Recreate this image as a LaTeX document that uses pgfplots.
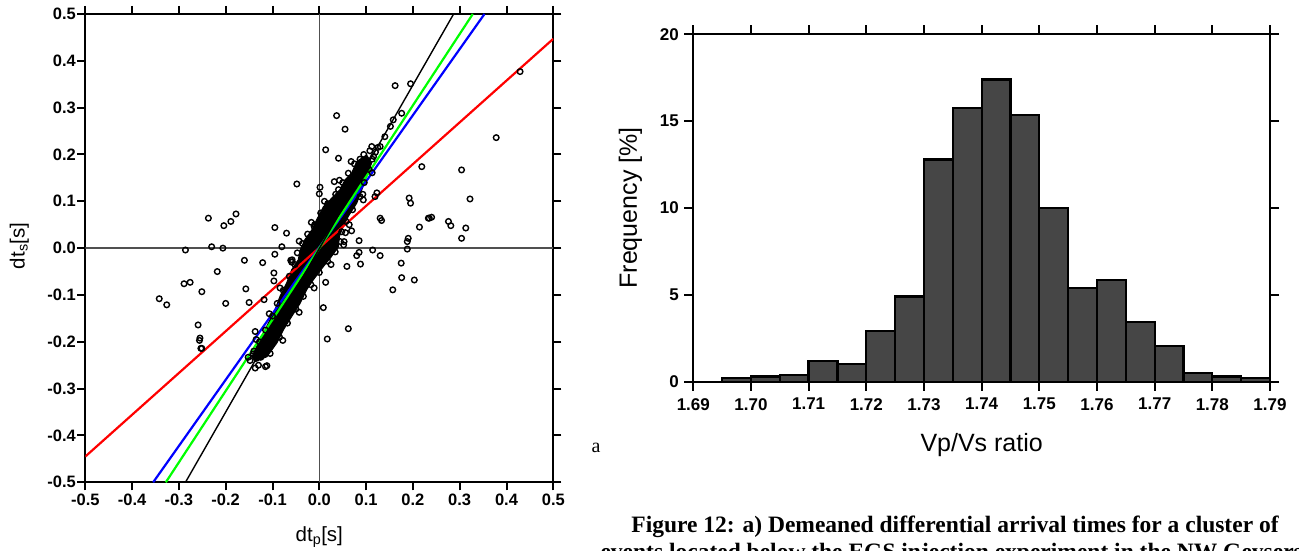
\documentclass[border=0pt]{standalone}
\usepackage{fontspec}
\setmainfont{Liberation Sans}
\newfontfamily\capfont{Liberation Serif}
\usepackage{pgfplots}
\pgfplotsset{compat=1.18}
\definecolor{barc}{HTML}{464646}
\definecolor{zl}{HTML}{505050}
\begin{document}
\begin{tikzpicture}
\useasboundingbox (0pt,0pt) rectangle (1299pt,550pt);
\clip (0pt,0pt) rectangle (1299pt,550pt);
% ---------------- left: scatter ----------------
\begin{axis}[
  at={(85.3pt,67.7pt)}, anchor=south west,
  width=468pt, height=468.3pt, scale only axis,
  xmin=-0.5, xmax=0.5, ymin=-0.5, ymax=0.5,
  axis line style={line width=2.2pt},
  tick align=outside, major tick length=8pt,
  every tick/.style={black, line width=2pt},
  xtick={-0.5,-0.4,-0.3,-0.2,-0.1,0,0.1,0.2,0.3,0.4,0.5},
  ytick={-0.5,-0.4,-0.3,-0.2,-0.1,0,0.1,0.2,0.3,0.4,0.5},
  xticklabels={-0.5,-0.4,-0.3,-0.2,-0.1,0.0,0.1,0.2,0.3,0.4,0.5},
  yticklabels={-0.5,-0.4,-0.3,-0.2,-0.1,0.0,0.1,0.2,0.3,0.4,0.5},
  ticklabel style={font=\fontsize{16.5}{16.5}\selectfont\bfseries},
  yticklabel style={xshift=2pt},
  xlabel={dt\textsubscript{p}[s]},
  ylabel={dt\textsubscript{s}[s]},
  label style={font=\fontsize{20.5}{20.5}\selectfont},
  xlabel style={at={(axis description cs:0.5,-0.117)}, anchor=center},
  ylabel style={at={(axis description cs:-0.141,0.505)}, anchor=center},
]
% zero lines
\addplot[zl, line width=1.3pt] coordinates {(-0.5,0) (0.5,0)};
\addplot[zl, line width=1.3pt] coordinates {(0,-0.5) (0,0.5)};
% dense core of the cluster
\addplot[fill=black, draw=black, line width=1pt] coordinates {
(0.101,0.199) (0.080,0.185) (0.069,0.160) (0.055,0.146) (0.044,0.125)
(0.023,0.103) (0.009,0.089) (-0.006,0.060) (-0.016,0.039) (-0.031,0.018)
(-0.041,-0.004) (-0.045,-0.025) (-0.059,-0.046) (-0.070,-0.075) (-0.084,-0.103)
(-0.095,-0.132) (-0.109,-0.160) (-0.123,-0.189) (-0.134,-0.210) (-0.144,-0.232)
(-0.137,-0.242) (-0.112,-0.232) (-0.091,-0.203) (-0.077,-0.175) (-0.059,-0.146)
(-0.041,-0.118) (-0.027,-0.089) (-0.013,-0.068) (0.009,-0.039) (0.026,-0.018)
(0.041,0.003) (0.043,0.025) (0.051,0.046) (0.062,0.068) (0.080,0.096)
(0.091,0.125) (0.101,0.153) (0.112,0.182) (0.101,0.199)};
% individual events
\addplot[only marks, mark=o, mark size=2.8pt, mark options={black, line width=1.4pt}] coordinates {
(0.095,0.200) (0.075,0.180) (0.062,0.160) (0.050,0.140) (0.035,0.115) (0.018,0.095)
(0.003,0.075) (-0.010,0.050) (-0.025,0.030) (-0.036,0.010) (-0.047,-0.010) (-0.052,-0.035)
(-0.064,-0.060) (-0.077,-0.090) (-0.090,-0.118) (-0.100,-0.145) (-0.115,-0.175) (-0.128,-0.200)
(-0.140,-0.220) (-0.148,-0.240)
(-0.130,-0.250) (-0.105,-0.225) (-0.085,-0.190) (-0.068,-0.160) (-0.050,-0.130) (-0.034,-0.103)
(-0.018,-0.078) (0.000,-0.052) (0.018,-0.028) (0.034,-0.008) (0.045,0.014) (0.048,0.035)
(0.057,0.057) (0.071,0.082) (0.087,0.110) (0.096,0.140) (0.106,0.168) (0.113,0.190)
(0.068,0.185) (0.043,0.145) (0.011,0.100) (-0.017,0.055) (-0.043,0.015) (-0.059,-0.030)
(-0.084,-0.085) (-0.107,-0.140) (-0.135,-0.195)
(-0.078,-0.197) (-0.043,-0.137) (-0.011,-0.085) (0.025,-0.035) (0.052,0.007) (0.064,0.050)
(0.094,0.103) (0.113,0.161)
(0.120,0.205) (0.125,0.215) (0.130,0.217) (0.140,0.238) (0.152,0.260) (0.158,0.274) (0.176,0.288)
(0.108,0.208) (0.116,0.196)
(-0.137,-0.256) (-0.134,-0.235) (-0.141,-0.226) (-0.152,-0.233) (-0.125,-0.233) (-0.137,-0.178)
(-0.115,-0.253) (-0.120,-0.215)
(0.037,0.283) (0.055,0.254) (0.0136,0.210) (0.041,0.192) (-0.048,0.137) (0.0015,0.130)
(0.000,0.116) (0.032,0.142) (0.041,0.125) (0.112,0.217) (0.087,0.190) (0.119,0.110)
(0.093,0.115) (0.192,0.107) (0.195,0.096) (0.219,0.174) (0.130,0.064) (0.133,0.059)
(0.214,0.045) (0.233,0.064) (0.190,0.021) (0.188,0.014) (0.188,-0.002) (0.056,0.033)
(0.069,0.037) (0.053,0.014) (0.085,0.016) (0.114,-0.004) (0.130,-0.016) (0.085,-0.009)
(0.080,-0.016) (0.088,-0.034) (0.059,-0.039) (0.175,-0.032) (0.176,-0.063) (0.203,-0.068)
(0.157,-0.089) (0.0136,-0.073) (0.0086,-0.127) (0.062,-0.172) (0.017,-0.194)
(-0.237,0.064) (-0.204,0.048) (-0.189,0.057) (-0.178,0.073) (-0.230,0.003) (-0.206,0.000)
(-0.095,0.044) (-0.070,0.032) (-0.080,0.003) (-0.095,-0.013) (-0.160,-0.026) (-0.121,-0.031)
(-0.061,-0.026) (-0.218,-0.050) (-0.097,-0.070) (-0.157,-0.087) (-0.251,-0.093) (-0.200,-0.118)
(-0.150,-0.116) (-0.118,-0.110) (-0.255,-0.192) (-0.251,-0.214) (-0.112,-0.251) (-0.286,-0.004)
(-0.097,-0.053) (-0.058,-0.025) (-0.011,0.046)
(0.162,0.347) (0.195,0.351) (0.429,0.377) (0.378,0.236) (0.304,0.167) (0.322,0.105)
(0.235,0.064) (0.240,0.066) (0.276,0.057) (0.281,0.048) (0.313,0.043) (0.304,0.021)
(0.123,0.118)
(-0.342,-0.108) (-0.326,-0.121) (-0.289,-0.076) (-0.276,-0.073) (-0.259,-0.164) (-0.256,-0.197)
(-0.253,-0.214)};
% fitted lines
\addplot[red, line width=2.2pt] coordinates {(-0.5,-0.445) (0.5,0.447)};
\addplot[blue, line width=2.2pt] coordinates {(-0.355,-0.5) (0.353,0.5)};
\addplot[green, line width=2.2pt] coordinates {(-0.328,-0.5) (0.328,0.5)};
\addplot[black, line width=1.4pt] coordinates {(-0.286,-0.5) (0.287,0.5)};
\end{axis}
% ---------------- right: histogram ----------------
\begin{axis}[
  at={(693.3pt,168.3pt)}, anchor=south west,
  width=576.7pt, height=347.4pt, scale only axis,
  xmin=1.69, xmax=1.79, ymin=0, ymax=20,
  axis line style={line width=2.2pt},
  tick align=outside, major tick length=9pt,
  every tick/.style={black, line width=2pt},
  xtick={1.69,1.70,1.71,1.72,1.73,1.74,1.75,1.76,1.77,1.78,1.79},
  xticklabels={1.69,1.70,1.71,1.72,1.73,1.74,1.75,1.76,1.77,1.78,1.79},
  ytick={0,5,10,15,20},
  yticklabels={0,5,10,15,20},
  ticklabel style={font=\fontsize{17}{17}\selectfont\bfseries},
  xticklabel style={yshift=-4pt},
  yticklabel style={xshift=-2pt},
  xlabel={Vp/Vs ratio},
  ylabel={Frequency [\%]},
  label style={font=\fontsize{25}{25}\selectfont},
  xlabel style={at={(axis description cs:0.5,-0.182)}, anchor=center},
  ylabel style={at={(axis description cs:-0.109,0.5)}, anchor=center},
  axis on top,
]
\addplot[ybar, bar width=0.005, bar shift=0pt, fill=barc, draw=black, line width=2.3pt] coordinates {
(1.6975,0.2) (1.7025,0.3) (1.7075,0.4) (1.7125,1.2) (1.7175,1.0) (1.7225,2.9)
(1.7275,4.9) (1.7325,12.8) (1.7375,15.75) (1.7425,17.4) (1.7475,15.35) (1.7525,10.0)
(1.7575,5.4) (1.7625,5.85) (1.7675,3.45) (1.7725,2.05) (1.7775,0.5) (1.7825,0.3) (1.7875,0.2)};
\end{axis}
% ---------------- caption fragments ----------------
\node[font=\capfont\fontsize{20}{20}\selectfont, anchor=base] at (596pt,98pt) {a};
\node[font=\capfont\bfseries\fontsize{23.5}{23.5}\selectfont, anchor=base] at (955pt,18pt)
  {Figure 12: a) Demeaned differential arrival times for a cluster of};
\node[font=\capfont\bfseries\fontsize{23.5}{23.5}\selectfont, anchor=base west] at (597pt,-9pt)
  {events located below the EGS injection experiment in the NW Geysers};
\end{tikzpicture}
\end{document}
